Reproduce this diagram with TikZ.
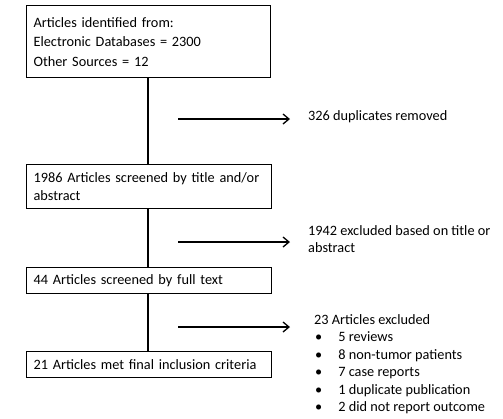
\documentclass[tikz,border=0pt]{standalone}
\usepackage{fontspec}
\setmainfont{Carlito}
\usetikzlibrary{arrows.meta}
\newcommand{\txtfont}{\fontsize{14.3}{17.5}\selectfont\hyphenpenalty=10000\exhyphenpenalty=10000}
\begin{document}
\begin{tikzpicture}[x=1pt,y=-1pt,
  box/.style={draw,line width=1.2pt,inner xsep=7pt,inner ysep=0pt,align=left,text width=#1,anchor=north west,font=\txtfont},
  conn/.style={line width=1.3pt},
  arr/.style={line width=1.3pt,-{Straight Barb[length=6pt,width=10pt,line width=1.3pt]}},
  lbl/.style={anchor=west,inner sep=0pt,align=left,font=\txtfont}]
\useasboundingbox (0,0) rectangle (503,418);
\node[box=230pt,minimum height=72pt] (b1) at (26,5) {Articles identified from:\\[2pt]Electronic Databases = 2300\\[2pt]Other Sources = 12};
\node[box=231pt,minimum height=44pt] (b2) at (26,164) {1986 Articles screened by title and/or\\abstract};
\node[box=231pt,minimum height=26pt] (b3) at (26,267) {44 Articles screened by full text};
\node[box=231pt,minimum height=26pt] (b4) at (26,351) {21 Articles met final inclusion criteria};
\draw[conn] (b1.south -| 148,0) -- (b2.north -| 148,0);
\draw[conn] (b2.south -| 148,0) -- (b3.north -| 148,0);
\draw[conn] (b3.south -| 148,0) -- (b4.north -| 148,0);
\coordinate (a1s) at (178,119); \coordinate (a1e) at (290,119);
\coordinate (a2s) at (178,242); \coordinate (a2e) at (290,242);
\coordinate (a3s) at (178,327); \coordinate (a3e) at (290,327);
\draw[arr] (a1s) -- (a1e);
\draw[arr] (a2s) -- (a2e);
\draw[arr] (a3s) -- (a3e);
\node[lbl] (t1) at (308,117) {326 duplicates removed};
\node[lbl,anchor=north west] (t2) at (308,225) {1942 excluded based on title or\\abstract};
\node[lbl,anchor=north west] (t3) at (314,314) {23 Articles excluded\\
\hspace*{1pt}\textbullet\hspace{16pt}5 reviews\\
\hspace*{1pt}\textbullet\hspace{16pt}8 non-tumor patients\\
\hspace*{1pt}\textbullet\hspace{16pt}7 case reports\\
\hspace*{1pt}\textbullet\hspace{16pt}1 duplicate publication\\
\hspace*{1pt}\textbullet\hspace{16pt}2 did not report outcome};
\end{tikzpicture}
\end{document}
